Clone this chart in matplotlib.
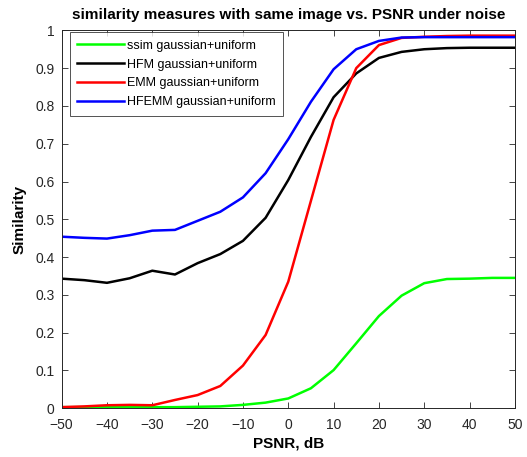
import matplotlib
matplotlib.use("Agg")
import matplotlib.pyplot as plt

plt.rcParams['font.family'] = ['Liberation Sans', 'DejaVu Sans']

# PSNR values (dB)
psnr = [-50, -45, -40, -35, -30, -25, -20, -15, -10, -5, 0, 5, 10, 15, 20, 25, 30, 35, 40, 45, 50]

# similarity curves
ssim = [0.003, 0.003, 0.003, 0.003, 0.003, 0.003, 0.004, 0.005, 0.009, 0.015, 0.026,
        0.053, 0.101, 0.172, 0.244, 0.298, 0.331, 0.342, 0.343, 0.345, 0.345]
hfm = [0.343, 0.339, 0.332, 0.344, 0.364, 0.354, 0.384, 0.408, 0.443, 0.504, 0.604,
       0.718, 0.823, 0.886, 0.927, 0.943, 0.950, 0.953, 0.954, 0.954, 0.954]
emm = [0.003, 0.005, 0.008, 0.009, 0.008, 0.022, 0.035, 0.059, 0.113, 0.194, 0.335,
       0.549, 0.763, 0.900, 0.961, 0.980, 0.983, 0.985, 0.986, 0.986, 0.986]
hfemm = [0.454, 0.451, 0.449, 0.458, 0.470, 0.472, 0.496, 0.520, 0.558, 0.622, 0.712,
         0.811, 0.897, 0.950, 0.972, 0.981, 0.982, 0.982, 0.982, 0.982, 0.982]

labels = ['ssim gaussian+uniform', 'HFM gaussian+uniform',
          'EMM gaussian+uniform', 'HFEMM gaussian+uniform']

fig = plt.figure(figsize=(5.27, 4.57), dpi=100)
ax = fig.add_axes([0.117, 0.1066, 0.860, 0.827])

ax.plot(psnr, ssim, color='#00ff00', lw=1.8, label=labels[0])
ax.plot(psnr, hfm, color='black', lw=1.8, label=labels[1])
ax.plot(psnr, emm, color='red', lw=1.8, label=labels[2])
ax.plot(psnr, hfemm, color='blue', lw=1.8, label=labels[3])

ax.set_xlim(-50, 50)
ax.set_ylim(0, 1)
ax.set_xticks(range(-50, 51, 10))
ax.set_yticks([i / 10 for i in range(11)])
ax.set_yticklabels(['0', '0.1', '0.2', '0.3', '0.4', '0.5', '0.6', '0.7', '0.8', '0.9', '1'])
ax.tick_params(direction='in', top=True, right=True, length=4, width=0.6,
               labelsize=10, colors='#262626', labelcolor='#262626')
ax.tick_params(axis='x', pad=7)
ax.tick_params(axis='y', pad=5)
for s in ax.spines.values():
    s.set_color('#262626')
    s.set_linewidth(0.7)

ax.set_title('similarity measures with same image vs. PSNR under noise',
             fontsize=11, fontweight='bold', pad=8)
ax.set_xlabel('PSNR, dB', fontsize=11, fontweight='bold', labelpad=3)
ax.set_ylabel('Similarity', fontsize=11, fontweight='bold', labelpad=6)

leg = ax.legend(loc='upper left', bbox_to_anchor=(0.018, 0.995), fontsize=9,
                handlelength=3.7, frameon=True, fancybox=False, edgecolor='#262626',
                borderaxespad=0.0, labelspacing=0.55, handletextpad=0.3,
                borderpad=0.6)
leg.get_frame().set_linewidth(0.7)

fig.savefig('out.png', dpi=100)
